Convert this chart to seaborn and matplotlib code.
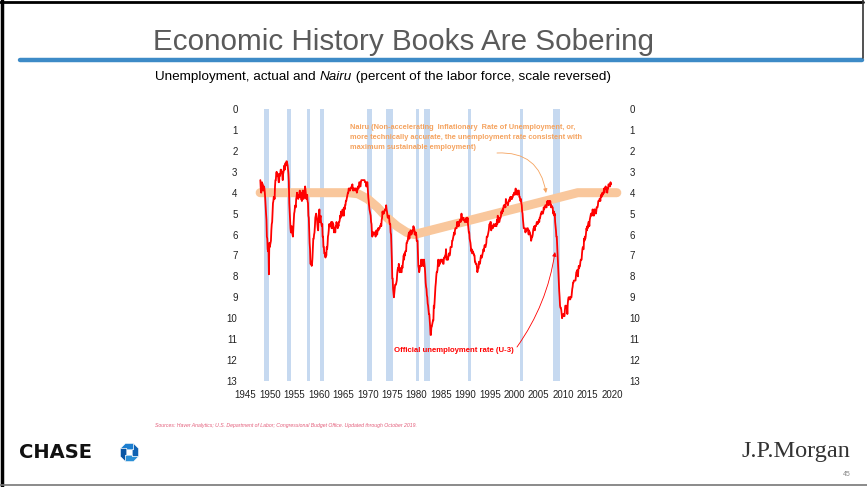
import numpy as np
import pandas as pd
import matplotlib
matplotlib.use("Agg")
import matplotlib.pyplot as plt
from matplotlib import font_manager
from matplotlib.patches import Polygon
import seaborn as sns

# ---------------------------------------------------------------
# Data
# ---------------------------------------------------------------
START_YEAR = 1948  # first month: January 1948

# Civilian unemployment rate (U-3), monthly, percent
u_1948_1959 = [
    3.4, 3.8, 4.0, 3.9, 3.5, 3.6, 3.6, 3.9, 3.8, 3.7, 3.8, 4.0,
    4.3, 4.7, 5.0, 5.3, 6.1, 6.2, 6.7, 6.8, 6.6, 7.9, 6.4, 6.6,
    6.5, 6.4, 6.3, 5.8, 5.5, 5.4, 5.0, 4.5, 4.4, 4.2, 4.2, 4.3,
    3.7, 3.4, 3.4, 3.1, 3.0, 3.2, 3.1, 3.1, 3.3, 3.5, 3.5, 3.1,
    3.2, 3.1, 2.9, 2.9, 3.0, 3.0, 3.2, 3.4, 3.1, 3.0, 2.8, 2.7,
    2.9, 2.6, 2.6, 2.7, 2.5, 2.5, 2.6, 2.7, 2.9, 3.1, 3.5, 4.5,
    4.9, 5.2, 5.7, 5.9, 5.9, 5.6, 5.8, 6.0, 6.1, 5.7, 5.3, 5.0,
    4.9, 4.7, 4.6, 4.7, 4.3, 4.2, 4.0, 4.2, 4.1, 4.3, 4.2, 4.2,
    4.0, 3.9, 4.2, 4.0, 4.3, 4.3, 4.4, 4.1, 3.9, 3.9, 4.3, 4.2,
    4.2, 3.9, 3.7, 3.9, 4.1, 4.3, 4.2, 4.1, 4.4, 4.5, 5.1, 5.2,
    5.8, 6.4, 6.7, 7.4, 7.4, 7.3, 7.5, 7.4, 7.1, 6.7, 6.2, 6.2,
    6.0, 5.9, 5.6, 5.2, 5.1, 5.0, 5.1, 5.2, 5.5, 5.7, 5.8, 5.3,
]
u_1960_1969 = [
    5.2, 4.8, 5.4, 5.2, 5.1, 5.4, 5.5, 5.6, 5.5, 6.1, 6.1, 6.6,
    6.6, 6.9, 6.9, 7.0, 7.1, 6.9, 7.0, 6.6, 6.7, 6.5, 6.1, 6.0,
    5.8, 5.5, 5.6, 5.6, 5.5, 5.5, 5.4, 5.7, 5.6, 5.4, 5.7, 5.5,
    5.7, 5.9, 5.7, 5.7, 5.9, 5.6, 5.6, 5.4, 5.5, 5.5, 5.7, 5.5,
    5.6, 5.4, 5.4, 5.3, 5.1, 5.2, 4.9, 5.0, 5.1, 5.1, 4.8, 5.0,
    4.9, 5.1, 4.7, 4.8, 4.6, 4.6, 4.4, 4.4, 4.3, 4.2, 4.1, 4.0,
    4.0, 3.8, 3.8, 3.8, 3.9, 3.8, 3.8, 3.8, 3.7, 3.7, 3.6, 3.8,
    3.9, 3.8, 3.8, 3.8, 3.8, 3.9, 3.8, 3.8, 3.8, 4.0, 3.9, 3.8,
    3.7, 3.8, 3.7, 3.5, 3.5, 3.7, 3.7, 3.5, 3.4, 3.4, 3.4, 3.4,
    3.4, 3.4, 3.4, 3.4, 3.4, 3.5, 3.5, 3.5, 3.7, 3.7, 3.5, 3.5,
]
u_1970_1979 = [
    3.9, 4.2, 4.4, 4.6, 4.8, 4.9, 5.0, 5.1, 5.4, 5.5, 5.9, 6.1,
    5.9, 5.9, 6.0, 5.9, 5.9, 5.9, 6.0, 6.1, 6.0, 5.8, 6.0, 6.0,
    5.8, 5.7, 5.8, 5.7, 5.7, 5.7, 5.6, 5.6, 5.5, 5.6, 5.3, 5.2,
    4.9, 5.0, 4.9, 5.0, 4.9, 4.9, 4.8, 4.8, 4.8, 4.6, 4.8, 4.9,
    5.1, 5.2, 5.1, 5.1, 5.1, 5.4, 5.5, 5.5, 5.9, 6.0, 6.6, 7.2,
    8.1, 8.1, 8.6, 8.8, 9.0, 8.8, 8.6, 8.4, 8.4, 8.4, 8.3, 8.2,
    7.9, 7.7, 7.6, 7.7, 7.4, 7.6, 7.8, 7.8, 7.6, 7.7, 7.8, 7.8,
    7.5, 7.6, 7.4, 7.2, 7.0, 7.2, 6.9, 7.0, 6.8, 6.8, 6.8, 6.4,
    6.4, 6.3, 6.3, 6.1, 6.0, 5.9, 6.2, 5.9, 6.0, 5.8, 5.9, 6.0,
    5.9, 5.9, 5.8, 5.8, 5.6, 5.7, 5.7, 6.0, 5.9, 6.0, 5.9, 6.0,
]
u_1980_1989 = [
    6.3, 6.3, 6.3, 6.9, 7.5, 7.6, 7.8, 7.7, 7.5, 7.5, 7.5, 7.2,
    7.5, 7.4, 7.4, 7.2, 7.5, 7.5, 7.2, 7.4, 7.6, 7.9, 8.3, 8.5,
    8.6, 8.9, 9.0, 9.3, 9.4, 9.6, 9.8, 9.8, 10.1, 10.4, 10.8, 10.8,
    10.4, 10.4, 10.3, 10.2, 10.1, 10.1, 9.4, 9.5, 9.2, 8.8, 8.5, 8.3,
    8.0, 7.8, 7.8, 7.7, 7.4, 7.2, 7.5, 7.5, 7.3, 7.4, 7.2, 7.3,
    7.3, 7.2, 7.2, 7.3, 7.2, 7.4, 7.4, 7.1, 7.1, 7.1, 7.0, 7.0,
    6.7, 7.2, 7.2, 7.1, 7.2, 7.2, 7.0, 6.9, 7.0, 7.0, 6.9, 6.6,
    6.6, 6.6, 6.6, 6.3, 6.3, 6.2, 6.1, 6.0, 5.9, 6.0, 5.8, 5.7,
    5.7, 5.7, 5.7, 5.4, 5.6, 5.4, 5.4, 5.6, 5.4, 5.4, 5.3, 5.3,
    5.4, 5.2, 5.0, 5.2, 5.2, 5.3, 5.2, 5.2, 5.3, 5.3, 5.4, 5.4,
]
u_1990_1999 = [
    5.4, 5.3, 5.2, 5.4, 5.4, 5.2, 5.5, 5.7, 5.9, 5.9, 6.2, 6.3,
    6.4, 6.6, 6.8, 6.7, 6.9, 6.9, 6.8, 6.9, 6.9, 7.0, 7.0, 7.3,
    7.3, 7.4, 7.4, 7.4, 7.6, 7.8, 7.7, 7.6, 7.6, 7.3, 7.4, 7.4,
    7.3, 7.1, 7.0, 7.1, 7.1, 7.0, 6.9, 6.8, 6.7, 6.8, 6.6, 6.5,
    6.6, 6.6, 6.5, 6.4, 6.1, 6.1, 6.1, 6.0, 5.9, 5.8, 5.6, 5.5,
    5.6, 5.4, 5.4, 5.8, 5.6, 5.6, 5.7, 5.7, 5.6, 5.5, 5.6, 5.6,
    5.6, 5.5, 5.5, 5.6, 5.6, 5.3, 5.5, 5.1, 5.2, 5.2, 5.4, 5.4,
    5.3, 5.2, 5.2, 5.1, 4.9, 5.0, 4.9, 4.8, 4.9, 4.7, 4.6, 4.7,
    4.6, 4.6, 4.7, 4.3, 4.4, 4.5, 4.5, 4.5, 4.6, 4.5, 4.4, 4.4,
    4.3, 4.4, 4.2, 4.3, 4.2, 4.3, 4.3, 4.2, 4.2, 4.1, 4.1, 4.0,
]
u_2000_2009 = [
    4.0, 4.1, 4.0, 3.8, 4.0, 4.0, 4.0, 4.1, 3.9, 3.9, 3.9, 3.9,
    4.2, 4.2, 4.3, 4.4, 4.3, 4.5, 4.6, 4.9, 5.0, 5.3, 5.5, 5.7,
    5.7, 5.7, 5.7, 5.9, 5.8, 5.8, 5.8, 5.7, 5.7, 5.7, 5.9, 6.0,
    5.8, 5.9, 5.9, 6.0, 6.1, 6.3, 6.2, 6.1, 6.1, 6.0, 5.8, 5.7,
    5.7, 5.6, 5.8, 5.6, 5.6, 5.6, 5.5, 5.4, 5.4, 5.5, 5.4, 5.4,
    5.3, 5.4, 5.2, 5.2, 5.1, 5.0, 5.0, 4.9, 5.0, 5.0, 5.0, 4.9,
    4.7, 4.8, 4.7, 4.7, 4.6, 4.6, 4.7, 4.7, 4.5, 4.4, 4.5, 4.4,
    4.6, 4.5, 4.4, 4.5, 4.4, 4.6, 4.7, 4.6, 4.7, 4.7, 4.7, 5.0,
    5.0, 4.9, 5.1, 5.0, 5.4, 5.6, 5.8, 6.1, 6.1, 6.5, 6.8, 7.3,
    7.8, 8.3, 8.7, 9.0, 9.4, 9.5, 9.5, 9.6, 9.8, 10.0, 9.9, 9.9,
]
u_2010_2019 = [
    9.8, 9.8, 9.9, 9.9, 9.6, 9.4, 9.4, 9.5, 9.5, 9.4, 9.8, 9.3,
    9.1, 9.0, 9.0, 9.1, 9.0, 9.1, 9.0, 9.0, 9.0, 8.8, 8.6, 8.5,
    8.3, 8.3, 8.2, 8.2, 8.2, 8.2, 8.2, 8.0, 7.8, 7.8, 7.7, 7.9,
    8.0, 7.7, 7.5, 7.6, 7.5, 7.5, 7.3, 7.2, 7.2, 7.2, 6.9, 6.7,
    6.6, 6.7, 6.7, 6.2, 6.3, 6.1, 6.2, 6.1, 5.9, 5.7, 5.8, 5.6,
    5.7, 5.5, 5.4, 5.4, 5.6, 5.3, 5.2, 5.1, 5.0, 5.0, 5.1, 5.0,
    4.8, 4.9, 5.0, 5.1, 4.8, 4.9, 4.8, 4.9, 5.0, 4.9, 4.7, 4.7,
    4.7, 4.6, 4.4, 4.4, 4.4, 4.3, 4.3, 4.4, 4.2, 4.1, 4.2, 4.1,
    4.0, 4.1, 4.0, 4.0, 3.8, 4.0, 3.8, 3.8, 3.7, 3.8, 3.8, 3.9,
    4.0, 3.8, 3.8, 3.6, 3.6, 3.7, 3.7, 3.7, 3.5, 3.6,
]

# Nairu (CBO estimate), percent
nairu_years = [1948, 1966, 1968, 1970, 1972, 1974, 1976, 1978, 1979.5, 2013, 2021]
nairu_values = [4.0, 4.0, 4.05, 4.3, 4.7, 5.2, 5.6, 5.9, 6.0, 4.0, 4.0]

# NBER recessions (start, end as decimal years)
rec_start = [1948.83, 1953.50, 1957.58, 1960.25, 1969.92, 1973.83, 1980.00, 1981.50, 1990.50, 2001.17, 2007.92]
rec_end   = [1949.75, 1954.33, 1958.25, 1961.08, 1970.83, 1975.17, 1980.50, 1982.83, 1991.17, 2001.83, 2009.42]

year_ticks = list(range(1945, 2021, 5))
rate_ticks = list(range(0, 14))

# ---------------------------------------------------------------
# Tables
# ---------------------------------------------------------------
rate = np.array(u_1948_1959 + u_1960_1969 + u_1970_1979 + u_1980_1989
                + u_1990_1999 + u_2000_2009 + u_2010_2019)
months = np.arange(len(rate))
u3 = pd.DataFrame({"year": START_YEAR + (months + 0.5) / 12.0, "rate": rate})
nairu = pd.DataFrame({"year": nairu_years, "rate": nairu_values})

# ---------------------------------------------------------------
# Styling
# ---------------------------------------------------------------
sns.set_theme(style="white")
available = {f.name for f in font_manager.fontManager.ttflist}
SANS = ["Liberation Sans Narrow", "Liberation Sans", "DejaVu Sans"] if "Liberation Sans Narrow" in available \
    else ["Liberation Sans", "DejaVu Sans"]
plt.rcParams["font.family"] = SANS

W, H = 867, 487
fig = plt.figure(figsize=(W / 100, H / 100), dpi=100)
fig.patch.set_facecolor("white")


def fx(x):
    return x / W


def fy(y):
    return 1 - y / H


# chart axes
left_px, right_px, top_px, bot_px = 240.6, 626.6, 109, 381
ax = fig.add_axes([fx(left_px), fy(bot_px), fx(right_px - left_px), (bot_px - top_px) / H])
ax.set_facecolor("none")

for s, e in zip(rec_start, rec_end):
    ax.axvspan(s, e, color="#C6D9F0", lw=0, zorder=1)

sns.lineplot(data=nairu, x="year", y="rate", ax=ax, color="#F9C79C",
             lw=6.5, solid_capstyle="round", solid_joinstyle="round", zorder=2)
sns.lineplot(data=u3, x="year", y="rate", ax=ax, color="#FF0000", lw=1.3, zorder=3)

ax.set_xlim(1944, 2023)
ax.set_ylim(13, 0)
ax.set_xticks(year_ticks)
ax.set_yticks(rate_ticks)
ax.set_xlabel("")
ax.set_ylabel("")
sns.despine(ax=ax, left=True, bottom=True)
ax.tick_params(axis="y", labelleft=True, labelright=True, left=False, right=False,
               length=0, labelsize=7, pad=2.2, labelcolor="#222222")
ax.tick_params(axis="x", bottom=False, length=0, labelsize=7, pad=6.5, labelcolor="#222222")
ax.grid(False)

# annotations
orange = "#F5A35F"
ax.annotate("Nairu (Non-accelerating  Inflationary  Rate of Unemployment, or,\n"
            "more technically accurate, the unemployment rate consistent with\n"
            "maximum sustainable employment)",
            xy=(fx(350), fy(124)), xycoords="figure fraction", ha="left", va="top",
            fontsize=5.3, fontweight="bold", color=orange, linespacing=1.6)
ax.annotate("", xy=(fx(546), fy(193)), xycoords="figure fraction",
            xytext=(fx(497), fy(153)), textcoords="figure fraction",
            arrowprops=dict(arrowstyle="-|>", color=orange, lw=0.6,
                            mutation_scale=6, connectionstyle="arc3,rad=-0.45",
                            shrinkA=0, shrinkB=0))

ax.annotate("Official unemployment rate (U-3)", xy=(fx(394), fy(350)),
            xycoords="figure fraction", ha="left", va="center",
            fontsize=5.6, fontweight="bold", color="#FF0000")
ax.annotate("", xy=(fx(555), fy(252)), xycoords="figure fraction",
            xytext=(fx(517), fy(347)), textcoords="figure fraction",
            arrowprops=dict(arrowstyle="-|>", color="#FF0000", lw=0.6,
                            mutation_scale=6, connectionstyle="arc3,rad=0.12",
                            shrinkA=0, shrinkB=0))

# ---------------------------------------------------------------
# Page furniture
# ---------------------------------------------------------------
fig.text(fx(153), fy(50), "Economic History Books Are Sobering", fontsize=21.3,
         color="#5A5A5A", ha="left", va="baseline")
fig.add_artist(plt.Line2D([fx(20), fx(862)], [fy(60), fy(60)], color="#3D8BC7", lw=3.2))

SUB = dict(fontsize=9.7, family=["Liberation Sans", "DejaVu Sans"], color="black")
t1 = fig.text(fx(155), fy(83), "Unemployment, actual and ", ha="left", va="bottom", **SUB)
t2 = fig.text(0, 0, "Nairu", style="italic", va="bottom", **SUB)
t3 = fig.text(0, 0, " (percent of the labor force, scale reversed)", va="bottom", **SUB)
fig.canvas.draw()
r = fig.canvas.get_renderer()
bb1 = t1.get_window_extent(r)
t2.set_position((bb1.x1 / fig.bbox.width, bb1.y0 / fig.bbox.height))
bb2 = t2.get_window_extent(r)
t3.set_position((bb2.x1 / fig.bbox.width, bb2.y0 / fig.bbox.height))

fig.text(fx(155), fy(426), "Sources: Haver Analytics; U.S. Department of Labor; Congressional "
         "Budget Office. Updated through October 2019.", fontsize=3.66, style="italic",
         family=["Liberation Sans", "DejaVu Sans"], color="#E35D7A", ha="left", va="center")

# CHASE wordmark and octagon
fig.text(fx(19), fy(453), "CHASE", fontsize=14, fontweight="bold",
         family=["DejaVu Sans"], color="#111111", ha="left", va="center")
logo = fig.add_axes([fx(120), fy(462), fx(19), 19 / H])
logo.set_xlim(-1.05, 1.05)
logo.set_ylim(-1.05, 1.05)
logo.axis("off")
piece = np.array([(-1, 0.45), (-0.45, 1), (0.45, 1), (0.45, 0.3), (-0.3, 0.3), (-0.3, 0.45)])
blues = ["#1C7ED0", "#0F62B3", "#2B8FD6", "#0A56A4"]
for k in range(4):
    a = -k * np.pi / 2
    rot = np.array([[np.cos(a), -np.sin(a)], [np.sin(a), np.cos(a)]])
    logo.add_patch(Polygon(piece @ rot.T, closed=True, fc=blues[k], ec="white", lw=0.4))

fig.text(fx(850), fy(452), "J.P.Morgan", fontsize=17.5,
         family=["Liberation Serif", "DejaVu Serif"], color="#333333", ha="right", va="center")
fig.text(fx(851), fy(475), "45", fontsize=5, family=["Liberation Sans", "DejaVu Sans"],
         color="#888888", ha="right", va="center")

# slide frame
fig.add_artist(plt.Line2D([fx(1.5), fx(1.5)], [fy(0), fy(487)], color="black", lw=2.5))
fig.add_artist(plt.Line2D([fx(0), fx(863)], [fy(1.5), fy(1.5)], color="black", lw=2.0))
fig.add_artist(plt.Line2D([fx(863), fx(863)], [fy(0), fy(58)], color="#333333", lw=1.2))
fig.add_artist(plt.Line2D([fx(0), fx(867)], [fy(484.5), fy(484.5)], color="#777777", lw=1.2))

fig.savefig("out.png", dpi=100, facecolor="white")
